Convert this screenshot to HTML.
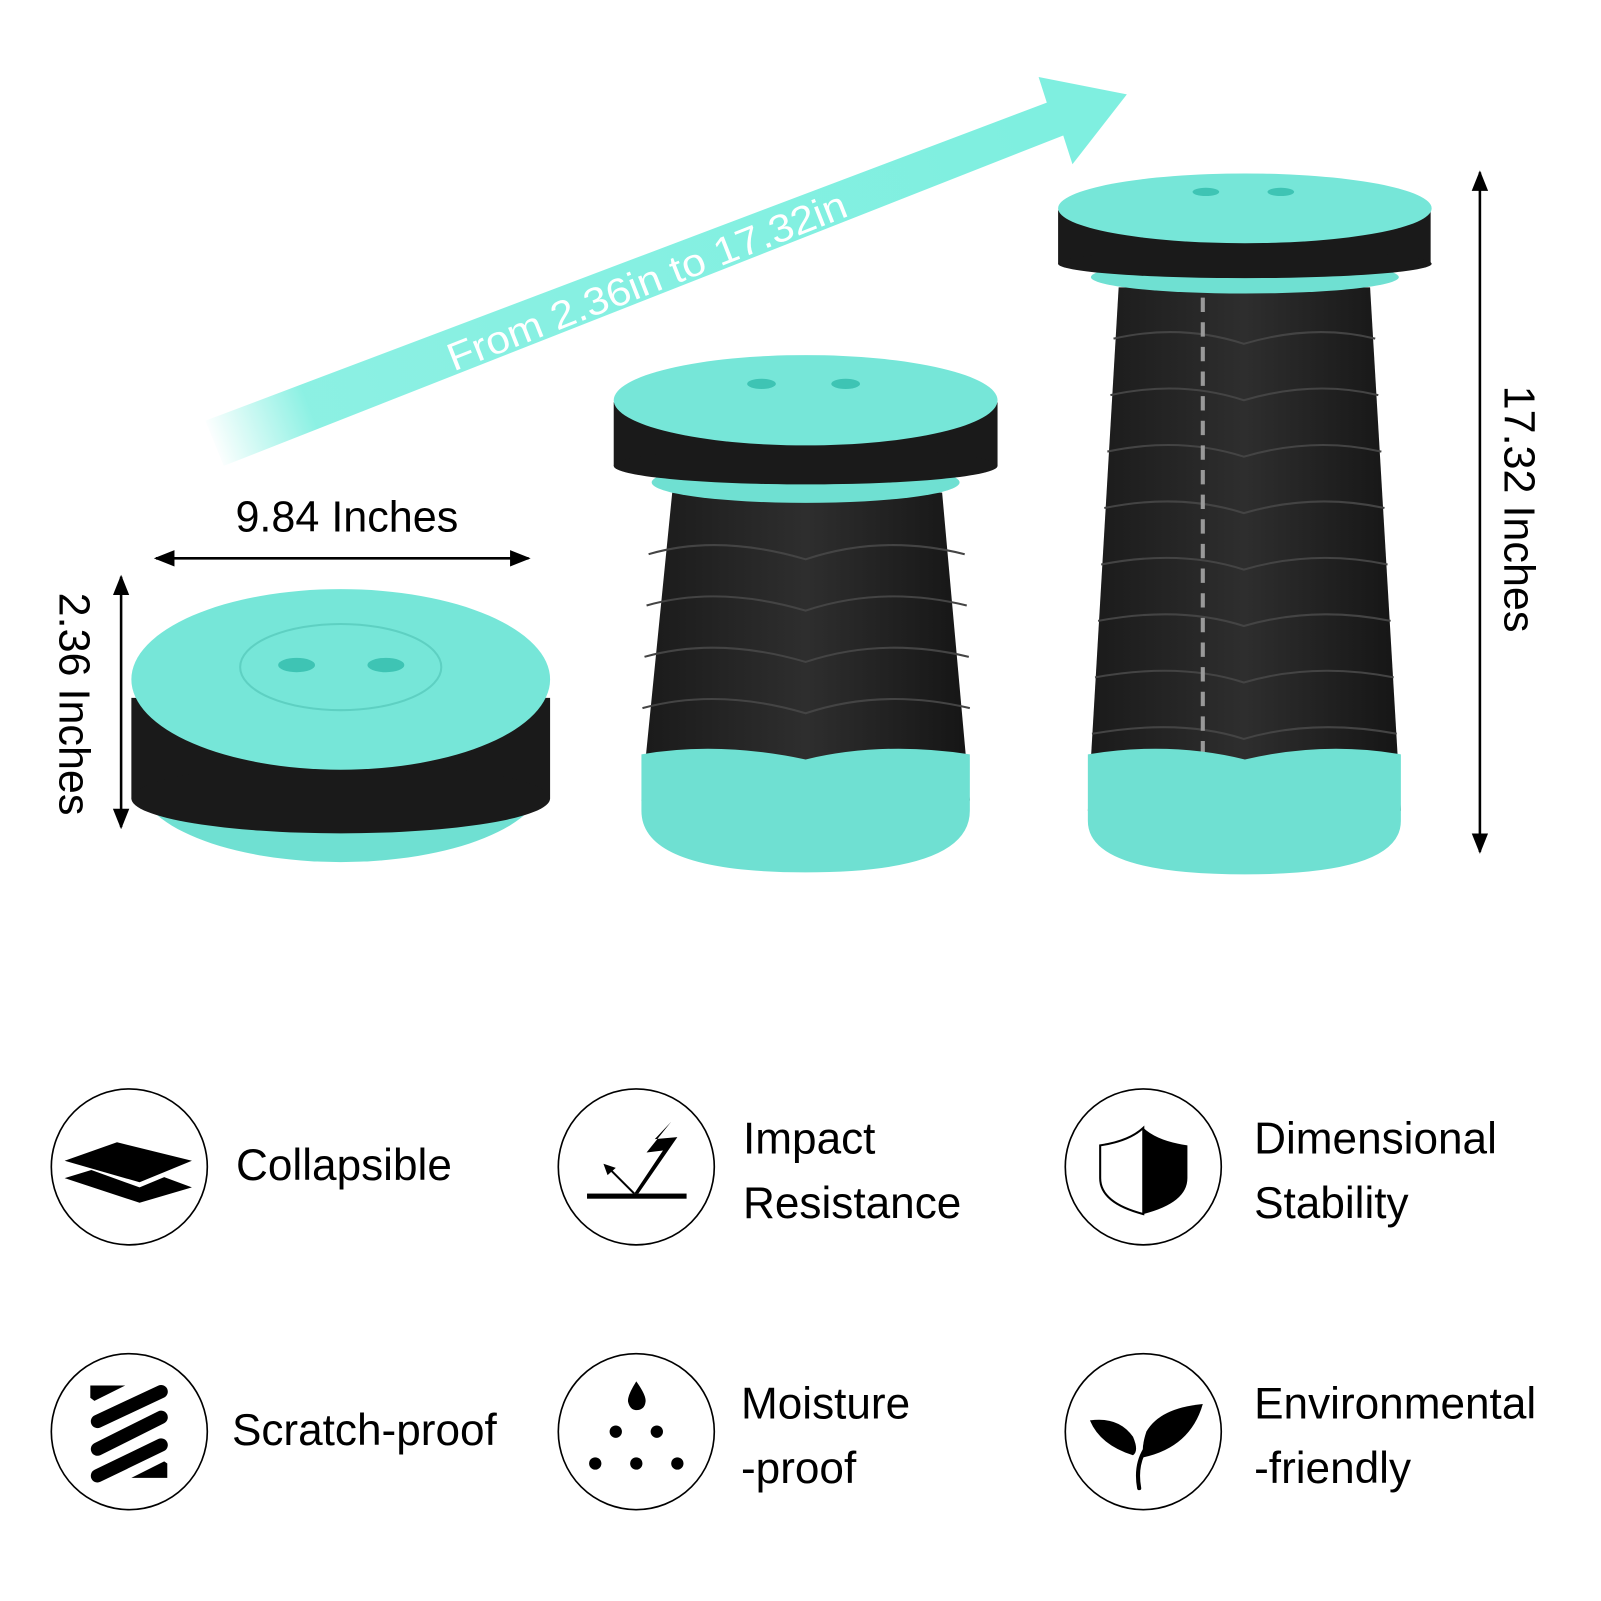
<!DOCTYPE html>
<html><head><meta charset="utf-8"><style>
html,body{margin:0;padding:0;background:#fff;}
svg{display:block;}
text{font-family:"Liberation Sans",Arial,sans-serif;}
</style></head><body>
<svg width="1601" height="1601" viewBox="0 0 1560 1560" xmlns="http://www.w3.org/2000/svg">
<defs>
<linearGradient id="ag" x1="205" y1="430" x2="1000" y2="130" gradientUnits="userSpaceOnUse">
<stop offset="0" stop-color="#7fefe0" stop-opacity="0"/>
<stop offset="0.12" stop-color="#7fefe0" stop-opacity="0.9"/>
<stop offset="1" stop-color="#7fefe0"/>
</linearGradient>
<marker id="ah" viewBox="0 0 10 10" refX="9" refY="5" markerWidth="8" markerHeight="8" orient="auto-start-reverse"><path d="M0,1 L10,5 L0,9 Z" fill="#000"/></marker>
<linearGradient id="body" x1="0" x2="1" y1="0" y2="0">
<stop offset="0" stop-color="#1a1a1a"/><stop offset="0.5" stop-color="#2e2e2e"/><stop offset="1" stop-color="#151515"/>
</linearGradient>
</defs>

<!-- big teal arrow -->
<polygon points="200,410 1020,100 1012,75 1098,92 1045,160 1036,132 218,454" fill="url(#ag)"/>
<text x="0" y="0" font-size="38" fill="#fff" textLength="415" lengthAdjust="spacingAndGlyphs" transform="translate(442,362) rotate(-21.5)">From 2.36in to 17.32in</text>

<!-- small stool -->
<ellipse cx="332" cy="760" rx="198" ry="80" fill="#6fe0d2"/>
<rect x="128" y="680" width="408" height="98" fill="#1a1a1a"/>
<ellipse cx="332" cy="778" rx="204" ry="34" fill="#1a1a1a"/>
<ellipse cx="332" cy="662" rx="204" ry="88" fill="#76e6d8"/>
<ellipse cx="332" cy="650" rx="98" ry="42" fill="none" stroke="#5ed0c2" stroke-width="2"/>
<ellipse cx="289" cy="648" rx="18" ry="7" fill="#3ec4b4"/>
<ellipse cx="376" cy="648" rx="18" ry="7" fill="#3ec4b4"/>

<text x="338" y="518" font-size="42" text-anchor="middle" fill="#000">9.84 Inches</text>
<line x1="152" y1="544" x2="515" y2="544" stroke="#000" stroke-width="2.5" marker-start="url(#ah)" marker-end="url(#ah)"/>
<line x1="118" y1="562" x2="118" y2="806" stroke="#000" stroke-width="2.5" marker-start="url(#ah)" marker-end="url(#ah)"/>
<text font-size="42" text-anchor="middle" fill="#000" transform="translate(58,686) rotate(90)">2.36 Inches</text>

<!-- middle stool -->
<polygon points="655,480 918,480 945,780 625,780" fill="url(#body)"/>
<g stroke="#444" stroke-width="2" fill="none">
<path d="M632,540 Q700,520 785,545 Q860,520 940,540"/>
<path d="M630,590 Q700,570 785,595 Q860,570 942,590"/>
<path d="M628,640 Q700,620 785,645 Q860,620 944,640"/>
<path d="M626,690 Q700,670 785,695 Q860,670 945,690"/>
</g>
<path d="M625,735 Q700,722 785,740 Q860,722 945,735 L945,790 Q945,850 785,850 Q625,850 625,790 Z" fill="#6fe0d2"/>
<ellipse cx="785" cy="470" rx="150" ry="20" fill="#6fe0d2"/>
<rect x="598" y="392" width="374" height="62" fill="#1a1a1a"/>
<ellipse cx="785" cy="454" rx="187" ry="18" fill="#1a1a1a"/>
<ellipse cx="785" cy="390" rx="187" ry="44" fill="#76e6d8"/>
<ellipse cx="742" cy="374" rx="14" ry="5" fill="#3ec4b4"/>
<ellipse cx="824" cy="374" rx="14" ry="5" fill="#3ec4b4"/>

<!-- right stool -->
<polygon points="1090,280 1335,280 1365,790 1060,790" fill="url(#body)"/>
<g stroke="#444" stroke-width="2" fill="none">
<path d="M1085,330 Q1150,315 1212,335 Q1280,315 1340,330"/>
<path d="M1082,385 Q1150,370 1212,390 Q1280,370 1343,385"/>
<path d="M1079,440 Q1150,425 1212,445 Q1280,425 1346,440"/>
<path d="M1076,495 Q1150,480 1212,500 Q1280,480 1349,495"/>
<path d="M1073,550 Q1150,535 1212,555 Q1280,535 1352,550"/>
<path d="M1070,605 Q1150,590 1212,610 Q1280,590 1355,605"/>
<path d="M1067,660 Q1150,645 1212,665 Q1280,645 1358,660"/>
<path d="M1064,715 Q1150,700 1212,720 Q1280,700 1361,715"/>
</g>
<line x1="1172" y1="290" x2="1172" y2="740" stroke="#999" stroke-width="4" stroke-dasharray="14 10"/>
<path d="M1060,735 Q1140,722 1213,740 Q1290,722 1365,735 L1365,800 Q1365,852 1213,852 Q1060,852 1060,800 Z" fill="#6fe0d2"/>
<ellipse cx="1213" cy="270" rx="150" ry="16" fill="#6fe0d2"/>
<rect x="1031" y="205" width="363" height="52" fill="#1a1a1a"/>
<ellipse cx="1213" cy="257" rx="182" ry="14" fill="#1a1a1a"/>
<ellipse cx="1213" cy="203" rx="182" ry="34" fill="#76e6d8"/>
<ellipse cx="1175" cy="187" rx="13" ry="4" fill="#3ec4b4"/>
<ellipse cx="1248" cy="187" rx="13" ry="4" fill="#3ec4b4"/>

<line x1="1442" y1="168" x2="1442" y2="830" stroke="#000" stroke-width="2.5" marker-start="url(#ah)" marker-end="url(#ah)"/>
<text font-size="42" text-anchor="middle" fill="#000" transform="translate(1466,496) rotate(90)">17.32 Inches</text>

<!-- icons -->
<g fill="none" stroke="#000" stroke-width="1.6">
<circle cx="126" cy="1137" r="76"/>
<circle cx="620" cy="1137" r="76"/>
<circle cx="1114" cy="1137" r="76"/>
<circle cx="126" cy="1395" r="76"/>
<circle cx="620" cy="1395" r="76"/>
<circle cx="1114" cy="1395" r="76"/>
</g>
<polygon points="63,1131 114,1113 187,1131 136,1152" fill="#000"/>
<polygon points="63,1148 89,1140 136,1157 160,1147 187,1157 136,1172" fill="#000"/>
<rect x="572" y="1163" width="97" height="5" fill="#000"/>
<polygon points="618,1163 646,1121 630,1123 654,1093 638,1110 660,1108 622,1163" fill="#000"/>
<line x1="618" y1="1163" x2="594" y2="1139" stroke="#000" stroke-width="2"/>
<polygon points="588,1134 600,1138 592,1145" fill="#000"/>
<path d="M1114,1099 Q1100,1112 1072,1116 L1072,1148 Q1072,1172 1114,1183 Z" fill="none" stroke="#000" stroke-width="2"/>
<path d="M1114,1099 Q1128,1112 1157,1116 L1157,1148 Q1157,1172 1114,1183 Z" fill="#000"/>
<g stroke="#000" stroke-width="13" stroke-linecap="round">
<line x1="95" y1="1412" x2="157" y2="1381"/>
<line x1="95" y1="1385" x2="157" y2="1356"/>
<line x1="95" y1="1438" x2="157" y2="1408"/>
</g>
<polygon points="88,1350 122,1350 92,1365 88,1362" fill="#000"/>
<polygon points="163,1426 163,1440 128,1440 160,1424" fill="#000"/>
<path d="M620,1346 Q611,1360 612,1366 Q614,1374 620,1374 Q628,1374 629,1366 Q630,1360 620,1346 Z" fill="#000"/>
<g fill="#000">
<circle cx="600" cy="1395" r="6"/><circle cx="640" cy="1395" r="6"/>
<circle cx="580" cy="1426" r="6"/><circle cx="620" cy="1426" r="6"/><circle cx="660" cy="1426" r="6"/>
</g>
<path d="M1062,1384 Q1090,1380 1104,1400 Q1110,1414 1104,1418 Q1072,1408 1062,1384 Z" fill="#000"/>
<path d="M1172,1368 Q1130,1372 1117,1395 Q1112,1410 1114,1420 Q1160,1410 1172,1368 Z" fill="#000"/>
<path d="M1116,1412 Q1106,1428 1110,1450" fill="none" stroke="#000" stroke-width="4" stroke-linecap="round"/>

<g font-size="43" fill="#000">
<text x="230" y="1150">Collapsible</text>
<text x="724" y="1124">Impact</text>
<text x="724" y="1187">Resistance</text>
<text x="1222" y="1124">Dimensional</text>
<text x="1222" y="1187">Stability</text>
<text x="226" y="1408">Scratch-proof</text>
<text x="722" y="1382">Moisture</text>
<text x="722" y="1445">-proof</text>
<text x="1222" y="1382">Environmental</text>
<text x="1222" y="1445">-friendly</text>
</g>
</svg>
</body></html>
